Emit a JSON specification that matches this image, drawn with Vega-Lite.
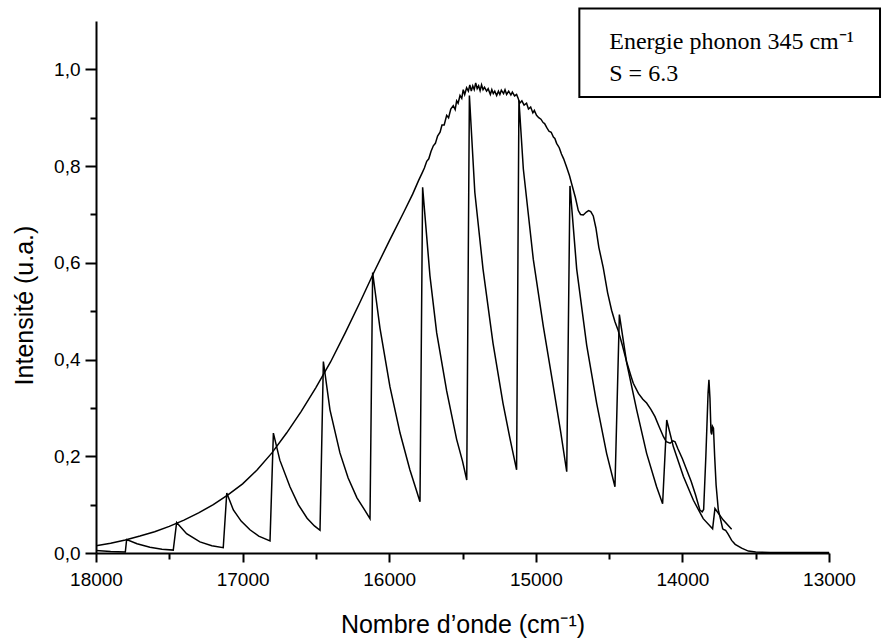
{
  "$schema": "https://vega.github.io/schema/vega-lite/v6.json",
  "width": 733,
  "height": 532,
  "autosize": {"type": "none"},
  "padding": {"left": 96, "top": 21, "right": 53, "bottom": 89},
  "background": "white",
  "config": {
    "view": {"stroke": null},
    "axis": {
      "grid": false,
      "domainColor": "black",
      "domainWidth": 2,
      "tickColor": "black",
      "tickWidth": 2,
      "labelColor": "black",
      "titleColor": "black",
      "labelFont": "Liberation Sans",
      "titleFont": "Liberation Sans",
      "labelFontSize": 19,
      "titleFontSize": 25,
      "titleFontWeight": "normal",
      "labelFlush": false,
      "labelOverlap": false
    }
  },
  "datasets": {
    "spectra": [
      {"series": "exp", "wavenumber": 18000, "intensity": 0.015},
      {"series": "exp", "wavenumber": 17900, "intensity": 0.02},
      {"series": "exp", "wavenumber": 17800, "intensity": 0.027},
      {"series": "exp", "wavenumber": 17700, "intensity": 0.035},
      {"series": "exp", "wavenumber": 17600, "intensity": 0.044},
      {"series": "exp", "wavenumber": 17500, "intensity": 0.055},
      {"series": "exp", "wavenumber": 17400, "intensity": 0.068},
      {"series": "exp", "wavenumber": 17300, "intensity": 0.083},
      {"series": "exp", "wavenumber": 17200, "intensity": 0.1},
      {"series": "exp", "wavenumber": 17100, "intensity": 0.12},
      {"series": "exp", "wavenumber": 17000, "intensity": 0.143},
      {"series": "exp", "wavenumber": 16900, "intensity": 0.172},
      {"series": "exp", "wavenumber": 16800, "intensity": 0.207},
      {"series": "exp", "wavenumber": 16700, "intensity": 0.248},
      {"series": "exp", "wavenumber": 16600, "intensity": 0.293},
      {"series": "exp", "wavenumber": 16500, "intensity": 0.342},
      {"series": "exp", "wavenumber": 16400, "intensity": 0.395},
      {"series": "exp", "wavenumber": 16300, "intensity": 0.455},
      {"series": "exp", "wavenumber": 16200, "intensity": 0.518},
      {"series": "exp", "wavenumber": 16100, "intensity": 0.583},
      {"series": "exp", "wavenumber": 16000, "intensity": 0.645},
      {"series": "exp", "wavenumber": 15900, "intensity": 0.705},
      {"series": "exp", "wavenumber": 15840, "intensity": 0.742},
      {"series": "exp", "wavenumber": 15800, "intensity": 0.77},
      {"series": "exp", "wavenumber": 15775, "intensity": 0.786},
      {"series": "exp", "wavenumber": 15760, "intensity": 0.796},
      {"series": "exp", "wavenumber": 15744, "intensity": 0.81},
      {"series": "exp", "wavenumber": 15730, "intensity": 0.815},
      {"series": "exp", "wavenumber": 15715, "intensity": 0.83},
      {"series": "exp", "wavenumber": 15699, "intensity": 0.842},
      {"series": "exp", "wavenumber": 15685, "intensity": 0.847},
      {"series": "exp", "wavenumber": 15670, "intensity": 0.862},
      {"series": "exp", "wavenumber": 15653, "intensity": 0.87},
      {"series": "exp", "wavenumber": 15640, "intensity": 0.885},
      {"series": "exp", "wavenumber": 15625, "intensity": 0.885},
      {"series": "exp", "wavenumber": 15608, "intensity": 0.905},
      {"series": "exp", "wavenumber": 15595, "intensity": 0.9},
      {"series": "exp", "wavenumber": 15580, "intensity": 0.918},
      {"series": "exp", "wavenumber": 15563, "intensity": 0.925},
      {"series": "exp", "wavenumber": 15550, "intensity": 0.917},
      {"series": "exp", "wavenumber": 15540, "intensity": 0.935},
      {"series": "exp", "wavenumber": 15530, "intensity": 0.93},
      {"series": "exp", "wavenumber": 15517, "intensity": 0.946},
      {"series": "exp", "wavenumber": 15505, "intensity": 0.94},
      {"series": "exp", "wavenumber": 15495, "intensity": 0.958},
      {"series": "exp", "wavenumber": 15485, "intensity": 0.948},
      {"series": "exp", "wavenumber": 15472, "intensity": 0.962},
      {"series": "exp", "wavenumber": 15460, "intensity": 0.955},
      {"series": "exp", "wavenumber": 15450, "intensity": 0.968},
      {"series": "exp", "wavenumber": 15440, "intensity": 0.955},
      {"series": "exp", "wavenumber": 15430, "intensity": 0.966},
      {"series": "exp", "wavenumber": 15420, "intensity": 0.958},
      {"series": "exp", "wavenumber": 15410, "intensity": 0.972},
      {"series": "exp", "wavenumber": 15400, "intensity": 0.96},
      {"series": "exp", "wavenumber": 15390, "intensity": 0.966},
      {"series": "exp", "wavenumber": 15380, "intensity": 0.956},
      {"series": "exp", "wavenumber": 15370, "intensity": 0.968},
      {"series": "exp", "wavenumber": 15360, "intensity": 0.958},
      {"series": "exp", "wavenumber": 15350, "intensity": 0.963},
      {"series": "exp", "wavenumber": 15336, "intensity": 0.955},
      {"series": "exp", "wavenumber": 15325, "intensity": 0.96},
      {"series": "exp", "wavenumber": 15310, "intensity": 0.948},
      {"series": "exp", "wavenumber": 15300, "intensity": 0.958},
      {"series": "exp", "wavenumber": 15290, "intensity": 0.95},
      {"series": "exp", "wavenumber": 15280, "intensity": 0.955},
      {"series": "exp", "wavenumber": 15267, "intensity": 0.946},
      {"series": "exp", "wavenumber": 15255, "intensity": 0.955},
      {"series": "exp", "wavenumber": 15245, "intensity": 0.948},
      {"series": "exp", "wavenumber": 15235, "intensity": 0.957},
      {"series": "exp", "wavenumber": 15220, "intensity": 0.95},
      {"series": "exp", "wavenumber": 15210, "intensity": 0.958},
      {"series": "exp", "wavenumber": 15199, "intensity": 0.948},
      {"series": "exp", "wavenumber": 15185, "intensity": 0.955},
      {"series": "exp", "wavenumber": 15170, "intensity": 0.947},
      {"series": "exp", "wavenumber": 15160, "intensity": 0.953},
      {"series": "exp", "wavenumber": 15145, "intensity": 0.945},
      {"series": "exp", "wavenumber": 15131, "intensity": 0.948},
      {"series": "exp", "wavenumber": 15120, "intensity": 0.94},
      {"series": "exp", "wavenumber": 15110, "intensity": 0.93},
      {"series": "exp", "wavenumber": 15095, "intensity": 0.935},
      {"series": "exp", "wavenumber": 15080, "intensity": 0.926},
      {"series": "exp", "wavenumber": 15063, "intensity": 0.93},
      {"series": "exp", "wavenumber": 15050, "intensity": 0.918},
      {"series": "exp", "wavenumber": 15035, "intensity": 0.922},
      {"series": "exp", "wavenumber": 15020, "intensity": 0.91},
      {"series": "exp", "wavenumber": 15010, "intensity": 0.915},
      {"series": "exp", "wavenumber": 14995, "intensity": 0.905},
      {"series": "exp", "wavenumber": 14980, "intensity": 0.9},
      {"series": "exp", "wavenumber": 14965, "intensity": 0.897},
      {"series": "exp", "wavenumber": 14950, "intensity": 0.89},
      {"series": "exp", "wavenumber": 14940, "intensity": 0.888},
      {"series": "exp", "wavenumber": 14926, "intensity": 0.88},
      {"series": "exp", "wavenumber": 14910, "intensity": 0.872},
      {"series": "exp", "wavenumber": 14895, "intensity": 0.87},
      {"series": "exp", "wavenumber": 14880, "intensity": 0.86},
      {"series": "exp", "wavenumber": 14870, "intensity": 0.857},
      {"series": "exp", "wavenumber": 14858, "intensity": 0.847},
      {"series": "exp", "wavenumber": 14840, "intensity": 0.838},
      {"series": "exp", "wavenumber": 14825, "intensity": 0.825},
      {"series": "exp", "wavenumber": 14810, "intensity": 0.815},
      {"series": "exp", "wavenumber": 14790, "intensity": 0.798},
      {"series": "exp", "wavenumber": 14770, "intensity": 0.78},
      {"series": "exp", "wavenumber": 14755, "intensity": 0.763},
      {"series": "exp", "wavenumber": 14730, "intensity": 0.735},
      {"series": "exp", "wavenumber": 14710, "intensity": 0.708},
      {"series": "exp", "wavenumber": 14695, "intensity": 0.7},
      {"series": "exp", "wavenumber": 14676, "intensity": 0.699},
      {"series": "exp", "wavenumber": 14655, "intensity": 0.705},
      {"series": "exp", "wavenumber": 14640, "intensity": 0.708},
      {"series": "exp", "wavenumber": 14625, "intensity": 0.706},
      {"series": "exp", "wavenumber": 14608, "intensity": 0.697},
      {"series": "exp", "wavenumber": 14590, "intensity": 0.672},
      {"series": "exp", "wavenumber": 14570, "intensity": 0.632},
      {"series": "exp", "wavenumber": 14540, "intensity": 0.59},
      {"series": "exp", "wavenumber": 14510, "intensity": 0.538},
      {"series": "exp", "wavenumber": 14483, "intensity": 0.502},
      {"series": "exp", "wavenumber": 14460, "intensity": 0.478},
      {"series": "exp", "wavenumber": 14438, "intensity": 0.46},
      {"series": "exp", "wavenumber": 14410, "intensity": 0.43},
      {"series": "exp", "wavenumber": 14380, "intensity": 0.395},
      {"series": "exp", "wavenumber": 14350, "intensity": 0.365},
      {"series": "exp", "wavenumber": 14335, "intensity": 0.351},
      {"series": "exp", "wavenumber": 14300, "intensity": 0.33},
      {"series": "exp", "wavenumber": 14270, "intensity": 0.318},
      {"series": "exp", "wavenumber": 14244, "intensity": 0.31},
      {"series": "exp", "wavenumber": 14215, "intensity": 0.297},
      {"series": "exp", "wavenumber": 14187, "intensity": 0.282},
      {"series": "exp", "wavenumber": 14160, "intensity": 0.262},
      {"series": "exp", "wavenumber": 14130, "intensity": 0.241},
      {"series": "exp", "wavenumber": 14110, "intensity": 0.23},
      {"series": "exp", "wavenumber": 14084, "intensity": 0.227},
      {"series": "exp", "wavenumber": 14065, "intensity": 0.232},
      {"series": "exp", "wavenumber": 14050, "intensity": 0.23},
      {"series": "exp", "wavenumber": 14030, "intensity": 0.215},
      {"series": "exp", "wavenumber": 14000, "intensity": 0.195},
      {"series": "exp", "wavenumber": 13971, "intensity": 0.172},
      {"series": "exp", "wavenumber": 13940, "intensity": 0.148},
      {"series": "exp", "wavenumber": 13910, "intensity": 0.12},
      {"series": "exp", "wavenumber": 13881, "intensity": 0.089},
      {"series": "exp", "wavenumber": 13865, "intensity": 0.085},
      {"series": "exp", "wavenumber": 13855, "intensity": 0.09},
      {"series": "exp", "wavenumber": 13840, "intensity": 0.2},
      {"series": "exp", "wavenumber": 13825, "intensity": 0.33},
      {"series": "exp", "wavenumber": 13819, "intensity": 0.358},
      {"series": "exp", "wavenumber": 13812, "intensity": 0.32},
      {"series": "exp", "wavenumber": 13805, "intensity": 0.25},
      {"series": "exp", "wavenumber": 13800, "intensity": 0.245},
      {"series": "exp", "wavenumber": 13795, "intensity": 0.262},
      {"series": "exp", "wavenumber": 13788, "intensity": 0.258},
      {"series": "exp", "wavenumber": 13780, "intensity": 0.2},
      {"series": "exp", "wavenumber": 13770, "intensity": 0.14},
      {"series": "exp", "wavenumber": 13755, "intensity": 0.089},
      {"series": "exp", "wavenumber": 13740, "intensity": 0.07},
      {"series": "exp", "wavenumber": 13725, "intensity": 0.05},
      {"series": "exp", "wavenumber": 13715, "intensity": 0.048},
      {"series": "exp", "wavenumber": 13705, "intensity": 0.047},
      {"series": "exp", "wavenumber": 13690, "intensity": 0.04},
      {"series": "exp", "wavenumber": 13664, "intensity": 0.026},
      {"series": "exp", "wavenumber": 13640, "intensity": 0.018},
      {"series": "exp", "wavenumber": 13596, "intensity": 0.01},
      {"series": "exp", "wavenumber": 13550, "intensity": 0.004},
      {"series": "exp", "wavenumber": 13500, "intensity": 0.002},
      {"series": "exp", "wavenumber": 13400, "intensity": 0.001},
      {"series": "exp", "wavenumber": 13200, "intensity": 0.001},
      {"series": "exp", "wavenumber": 13000, "intensity": 0.001},
      {"series": "calc", "wavenumber": 18000, "intensity": 0.005},
      {"series": "calc", "wavenumber": 17900, "intensity": 0.003},
      {"series": "calc", "wavenumber": 17800, "intensity": 0.002},
      {"series": "calc", "wavenumber": 17791, "intensity": 0.028},
      {"series": "calc", "wavenumber": 17720, "intensity": 0.019},
      {"series": "calc", "wavenumber": 17632, "intensity": 0.012},
      {"series": "calc", "wavenumber": 17550, "intensity": 0.008},
      {"series": "calc", "wavenumber": 17473, "intensity": 0.006},
      {"series": "calc", "wavenumber": 17450, "intensity": 0.063},
      {"series": "calc", "wavenumber": 17382, "intensity": 0.04},
      {"series": "calc", "wavenumber": 17291, "intensity": 0.023},
      {"series": "calc", "wavenumber": 17210, "intensity": 0.015},
      {"series": "calc", "wavenumber": 17132, "intensity": 0.011},
      {"series": "calc", "wavenumber": 17108, "intensity": 0.124},
      {"series": "calc", "wavenumber": 17063, "intensity": 0.089},
      {"series": "calc", "wavenumber": 17010, "intensity": 0.066},
      {"series": "calc", "wavenumber": 16950, "intensity": 0.048},
      {"series": "calc", "wavenumber": 16890, "intensity": 0.035},
      {"series": "calc", "wavenumber": 16813, "intensity": 0.025},
      {"series": "calc", "wavenumber": 16790, "intensity": 0.248},
      {"series": "calc", "wavenumber": 16746, "intensity": 0.192},
      {"series": "calc", "wavenumber": 16677, "intensity": 0.137},
      {"series": "calc", "wavenumber": 16620, "intensity": 0.1},
      {"series": "calc", "wavenumber": 16560, "intensity": 0.072},
      {"series": "calc", "wavenumber": 16510, "intensity": 0.056},
      {"series": "calc", "wavenumber": 16472, "intensity": 0.047},
      {"series": "calc", "wavenumber": 16449, "intensity": 0.396},
      {"series": "calc", "wavenumber": 16404, "intensity": 0.296},
      {"series": "calc", "wavenumber": 16336, "intensity": 0.207},
      {"series": "calc", "wavenumber": 16280, "intensity": 0.155},
      {"series": "calc", "wavenumber": 16220, "intensity": 0.114},
      {"series": "calc", "wavenumber": 16170, "intensity": 0.09},
      {"series": "calc", "wavenumber": 16131, "intensity": 0.071},
      {"series": "calc", "wavenumber": 16113, "intensity": 0.58},
      {"series": "calc", "wavenumber": 16063, "intensity": 0.465},
      {"series": "calc", "wavenumber": 15995, "intensity": 0.344},
      {"series": "calc", "wavenumber": 15926, "intensity": 0.248},
      {"series": "calc", "wavenumber": 15859, "intensity": 0.172},
      {"series": "calc", "wavenumber": 15820, "intensity": 0.135},
      {"series": "calc", "wavenumber": 15790, "intensity": 0.106},
      {"series": "calc", "wavenumber": 15772, "intensity": 0.756},
      {"series": "calc", "wavenumber": 15722, "intensity": 0.573},
      {"series": "calc", "wavenumber": 15676, "intensity": 0.455},
      {"series": "calc", "wavenumber": 15608, "intensity": 0.335},
      {"series": "calc", "wavenumber": 15540, "intensity": 0.235},
      {"series": "calc", "wavenumber": 15500, "intensity": 0.19},
      {"series": "calc", "wavenumber": 15471, "intensity": 0.151},
      {"series": "calc", "wavenumber": 15453, "intensity": 0.946},
      {"series": "calc", "wavenumber": 15416, "intensity": 0.746},
      {"series": "calc", "wavenumber": 15360, "intensity": 0.587},
      {"series": "calc", "wavenumber": 15292, "intensity": 0.434},
      {"series": "calc", "wavenumber": 15224, "intensity": 0.31},
      {"series": "calc", "wavenumber": 15175, "intensity": 0.235},
      {"series": "calc", "wavenumber": 15131, "intensity": 0.172},
      {"series": "calc", "wavenumber": 15115, "intensity": 0.936},
      {"series": "calc", "wavenumber": 15085, "intensity": 0.794},
      {"series": "calc", "wavenumber": 15017, "intensity": 0.607},
      {"series": "calc", "wavenumber": 14949, "intensity": 0.469},
      {"series": "calc", "wavenumber": 14881, "intensity": 0.345},
      {"series": "calc", "wavenumber": 14830, "intensity": 0.25},
      {"series": "calc", "wavenumber": 14789, "intensity": 0.168},
      {"series": "calc", "wavenumber": 14767, "intensity": 0.759},
      {"series": "calc", "wavenumber": 14721, "intensity": 0.587},
      {"series": "calc", "wavenumber": 14653, "intensity": 0.43},
      {"series": "calc", "wavenumber": 14585, "intensity": 0.31},
      {"series": "calc", "wavenumber": 14517, "intensity": 0.206},
      {"series": "calc", "wavenumber": 14460, "intensity": 0.137},
      {"series": "calc", "wavenumber": 14430, "intensity": 0.493},
      {"series": "calc", "wavenumber": 14380, "intensity": 0.393},
      {"series": "calc", "wavenumber": 14312, "intensity": 0.296},
      {"series": "calc", "wavenumber": 14244, "intensity": 0.206},
      {"series": "calc", "wavenumber": 14176, "intensity": 0.137},
      {"series": "calc", "wavenumber": 14135, "intensity": 0.102},
      {"series": "calc", "wavenumber": 14107, "intensity": 0.275},
      {"series": "calc", "wavenumber": 14062, "intensity": 0.22},
      {"series": "calc", "wavenumber": 13993, "intensity": 0.158},
      {"series": "calc", "wavenumber": 13925, "intensity": 0.109},
      {"series": "calc", "wavenumber": 13858, "intensity": 0.071},
      {"series": "calc", "wavenumber": 13794, "intensity": 0.05},
      {"series": "calc", "wavenumber": 13778, "intensity": 0.092},
      {"series": "calc", "wavenumber": 13721, "intensity": 0.068},
      {"series": "calc", "wavenumber": 13664, "intensity": 0.049}
    ]
  },
  "layer": [
    {
      "data": {"name": "spectra"},
      "mark": {"type": "line", "color": "black", "strokeWidth": 1.5, "clip": true},
      "encoding": {
        "x": {
          "field": "wavenumber",
          "type": "quantitative",
          "scale": {"domain": [13000, 18000], "reverse": true, "nice": false, "zero": false},
          "axis": {
            "title": "Nombre d’onde (cm⁻¹)",
            "values": [18000, 17500, 17000, 16500, 16000, 15500, 15000, 14500, 14000, 13500, 13000],
            "labelExpr": "datum.value % 1000 === 0 ? format(datum.value, 'd') : ''",
            "tickSize": {"condition": {"test": "datum.value % 1000 === 0", "value": 9}, "value": 6},
            "labelPadding": 8,
            "titleY": 79,
            "titleBaseline": "alphabetic"
          }
        },
        "y": {
          "field": "intensity",
          "type": "quantitative",
          "scale": {"domain": [0, 1.1], "nice": false, "zero": true},
          "axis": {
            "title": "Intensité (u.a.)",
            "values": [0, 0.1, 0.2, 0.3, 0.4, 0.5, 0.6, 0.7, 0.8, 0.9, 1.0],
            "labelExpr": "round(datum.value * 10) % 2 === 0 ? replace(format(datum.value, '.1f'), '.', ',') : ''",
            "tickSize": {"condition": {"test": "round(datum.value * 10) % 2 === 0", "value": 11}, "value": 6},
            "labelPadding": 5,
            "titleAngle": 270,
            "titleX": -64,
            "titleY": 284,
            "titleAlign": "center",
            "titleBaseline": "alphabetic"
          }
        },
        "detail": {"field": "series"}
      }
    },
    {
      "data": {"values": [{}]},
      "mark": {"type": "rect", "fill": "white", "stroke": "black", "strokeWidth": 2, "clip": false},
      "encoding": {
        "x": {"datum": 14703, "type": "quantitative"},
        "x2": {"datum": 12652},
        "y": {"datum": 1.126, "type": "quantitative"},
        "y2": {"datum": 0.943}
      }
    },
    {
      "data": {"values": [{}]},
      "mark": {
        "type": "text",
        "font": "Liberation Serif",
        "fontSize": 24,
        "lineHeight": 32,
        "align": "left",
        "baseline": "alphabetic",
        "color": "black",
        "clip": false
      },
      "encoding": {
        "x": {"datum": 14499, "type": "quantitative"},
        "y": {"datum": 1.043, "type": "quantitative"},
        "text": {"value": ["Energie phonon 345 cm⁻¹", "S = 6.3"]}
      }
    }
  ]
}
